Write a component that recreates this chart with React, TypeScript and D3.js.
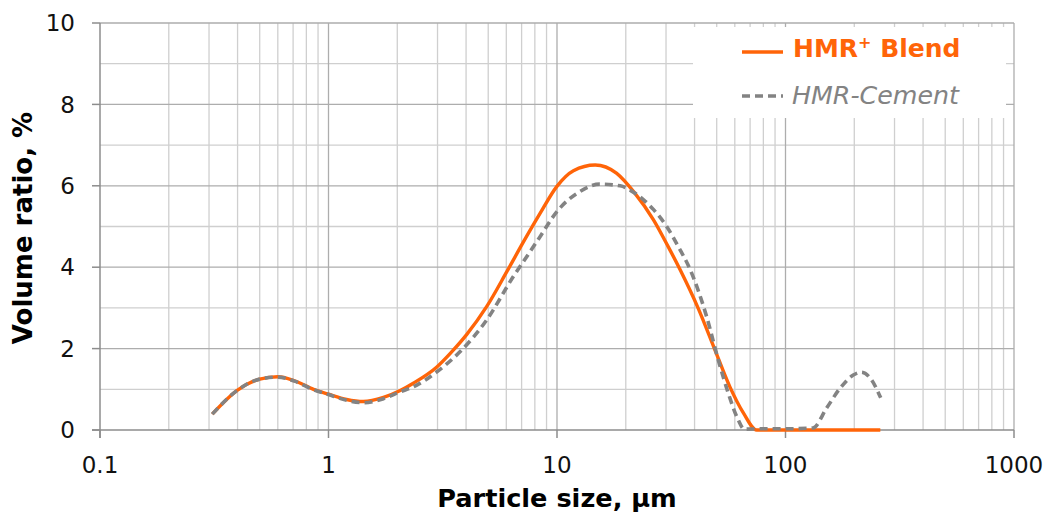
import React, { useRef, useEffect } from "react";
import * as d3 from "d3";

// particle size (µm) and volume ratio (%)
const blendSize = [0.31, 0.4, 0.5, 0.6, 0.71, 0.86, 1.0, 1.2, 1.42, 1.74, 2.06, 2.35, 2.98, 3.46, 4.03, 4.92, 6.03, 7.13, 8.43, 9.97, 11.8, 14.7, 18.2, 21.9, 26.4, 30.7, 34.5, 41.5, 49.1, 57.1, 65.4, 74.8, 100, 150, 260];
const blendVol = [0.39, 0.98, 1.25, 1.31, 1.21, 1.0, 0.88, 0.75, 0.7, 0.8, 0.97, 1.15, 1.55, 1.92, 2.35, 3.03, 3.89, 4.62, 5.32, 5.98, 6.37, 6.51, 6.31, 5.82, 5.17, 4.5, 3.95, 2.99, 1.97, 1.06, 0.42, 0.0, 0, 0, 0];

const cementSize = [0.31, 0.4, 0.5, 0.6, 0.71, 0.86, 1.0, 1.2, 1.42, 1.74, 2.06, 2.35, 2.98, 3.76, 4.92, 6.44, 7.62, 8.43, 9.97, 12.6, 15.4, 18.9, 21.9, 24, 26.4, 30.2, 34, 38.2, 45.2, 50.8, 56.2, 62.1, 66, 80, 100, 132, 151, 173, 198, 215, 238, 261];
const cementVol = [0.39, 0.98, 1.25, 1.3, 1.2, 0.99, 0.87, 0.73, 0.67, 0.77, 0.94, 1.06, 1.43, 1.92, 2.7, 3.77, 4.38, 4.75, 5.36, 5.86, 6.04, 6.0, 5.82, 5.65, 5.42, 5.0, 4.5, 3.95, 2.78, 1.72, 0.9, 0.25, 0.02, 0.03, 0.03, 0.05, 0.53, 1.02, 1.35, 1.42, 1.23, 0.79];

const xTicks = [0.1, 1, 10, 100, 1000];
const xTickLabels = ["0.1", "1", "10", "100", "1000"];
const yTicks = [0, 2, 4, 6, 8, 10];

const ORANGE = "#ff6408";
const GREY = "#838383";
const FONT = "'DejaVu Sans', Verdana, sans-serif";

const App = () => {
  const svgRef = useRef<SVGSVGElement>(null);

  useEffect(() => {
    const svg = d3.select(svgRef.current);
    svg.selectAll("*").remove();

    const left = 100, right = 1014, top = 23, bottom = 430;

    const x = d3.scaleLog().domain([0.1, 1000]).range([left, right]);
    const y = d3.scaleLinear().domain([0, 10]).range([bottom, top]);

    // vertical grid: every minor step in each decade
    const minor: number[] = [];
    for (let d = 0.1; d < 1000; d *= 10) {
      for (let k = 2; k <= 9; k++) minor.push(+(d * k).toPrecision(3));
    }
    svg
      .selectAll(".vminor")
      .data(minor)
      .enter()
      .append("line")
      .attr("x1", (d) => x(d))
      .attr("x2", (d) => x(d))
      .attr("y1", top)
      .attr("y2", bottom)
      .attr("stroke", "#cfcfcf")
      .attr("stroke-width", 1.3);

    svg
      .selectAll(".hgrid")
      .data(d3.range(1, 11))
      .enter()
      .append("line")
      .attr("x1", left)
      .attr("x2", right)
      .attr("y1", (d) => y(d))
      .attr("y2", (d) => y(d))
      .attr("stroke", (d) => (d % 2 === 0 ? "#adadad" : "#cfcfcf"))
      .attr("stroke-width", 1.3);

    svg
      .selectAll(".vmajor")
      .data(xTicks.slice(1))
      .enter()
      .append("line")
      .attr("x1", (d) => x(d))
      .attr("x2", (d) => x(d))
      .attr("y1", top)
      .attr("y2", bottom)
      .attr("stroke", "#adadad")
      .attr("stroke-width", 1.3);

    // axes
    const axisColor = "#8c8c8c";
    svg.append("line").attr("x1", left - 8).attr("x2", right).attr("y1", bottom).attr("y2", bottom).attr("stroke", axisColor).attr("stroke-width", 1.5);
    svg.append("line").attr("x1", left).attr("x2", left).attr("y1", top).attr("y2", bottom + 8).attr("stroke", axisColor).attr("stroke-width", 1.5);

    svg
      .selectAll(".xtick")
      .data(xTicks)
      .enter()
      .append("line")
      .attr("x1", (d) => x(d))
      .attr("x2", (d) => x(d))
      .attr("y1", bottom)
      .attr("y2", bottom + 8)
      .attr("stroke", axisColor)
      .attr("stroke-width", 1.5);

    svg
      .selectAll(".ytick")
      .data(yTicks)
      .enter()
      .append("line")
      .attr("x1", left - 8)
      .attr("x2", left)
      .attr("y1", (d) => y(d))
      .attr("y2", (d) => y(d))
      .attr("stroke", axisColor)
      .attr("stroke-width", 1.5);

    svg
      .selectAll(".xlabel")
      .data(xTicks)
      .enter()
      .append("text")
      .attr("x", (d) => x(d))
      .attr("y", 473)
      .attr("text-anchor", "middle")
      .attr("font-family", FONT)
      .attr("font-size", 23)
      .attr("fill", "#111")
      .text((d, i) => xTickLabels[i]);

    svg
      .selectAll(".ylabel")
      .data(yTicks)
      .enter()
      .append("text")
      .attr("x", 75)
      .attr("y", (d) => y(d))
      .attr("dy", "0.36em")
      .attr("text-anchor", "end")
      .attr("font-family", FONT)
      .attr("font-size", 23)
      .attr("fill", "#111")
      .text((d) => d);

    svg
      .append("text")
      .attr("x", 557)
      .attr("y", 507)
      .attr("text-anchor", "middle")
      .attr("font-family", FONT)
      .attr("font-size", 25.6)
      .attr("font-weight", "bold")
      .attr("fill", "#000")
      .text("Particle size, µm");

    svg
      .append("text")
      .attr("transform", "translate(32,228) rotate(-90)")
      .attr("text-anchor", "middle")
      .attr("font-family", FONT)
      .attr("font-size", 26)
      .attr("font-weight", "bold")
      .attr("fill", "#000")
      .text("Volume ratio, %");

    // curves
    const line = d3
      .line<[number, number]>()
      .x((d) => x(d[0]))
      .y((d) => y(d[1]))
      .curve(d3.curveMonotoneX);

    const cementPts = cementSize.map((s, i) => [s, cementVol[i]] as [number, number]);
    const blendPts = blendSize.map((s, i) => [s, blendVol[i]] as [number, number]);

    svg
      .append("path")
      .datum(blendPts)
      .attr("fill", "none")
      .attr("stroke", ORANGE)
      .attr("stroke-width", 3.4)
      .attr("d", line);

    svg
      .append("path")
      .datum(cementPts)
      .attr("fill", "none")
      .attr("stroke", GREY)
      .attr("stroke-width", 3.6)
      .attr("stroke-dasharray", "8,5")
      .attr("d", line);

    // legend
    svg.append("rect").attr("x", 693).attr("y", 27).attr("width", 313).attr("height", 91).attr("fill", "#fff");

    svg.append("line").attr("x1", 742).attr("x2", 783).attr("y1", 52).attr("y2", 52).attr("stroke", ORANGE).attr("stroke-width", 3.4);
    const t1 = svg
      .append("text")
      .attr("x", 793)
      .attr("y", 57)
      .attr("font-family", FONT)
      .attr("font-size", 25)
      .attr("font-weight", "bold")
      .attr("fill", ORANGE);
    t1.append("tspan").text("HMR");
    t1.append("tspan").attr("font-size", 16).attr("dy", -9).text("+");
    t1.append("tspan").attr("dy", 9).text(" Blend");

    svg.append("line").attr("x1", 742).attr("x2", 783).attr("y1", 96).attr("y2", 96).attr("stroke", GREY).attr("stroke-width", 3.6).attr("stroke-dasharray", "8,5");
    svg
      .append("text")
      .attr("x", 792)
      .attr("y", 104)
      .attr("font-family", FONT)
      .attr("font-size", 25.3)
      .attr("font-style", "italic")
      .attr("fill", GREY)
      .text("HMR-Cement");
  }, []);

  return (
    <svg
      ref={svgRef}
      width={1050}
      height={514}
      style={{ position: "absolute", left: 0, top: 0, background: "#fff" }}
    />
  );
};

export default App;
